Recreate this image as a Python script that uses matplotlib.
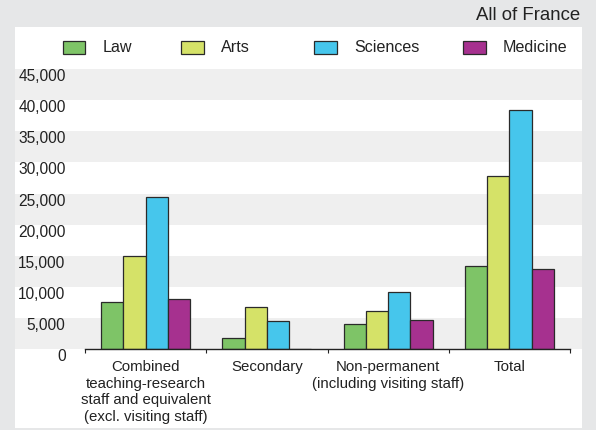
import matplotlib
matplotlib.use("Agg")
import matplotlib.pyplot as plt
from matplotlib.patches import Rectangle
import numpy as np

plt.rcParams['font.family'] = ['Liberation Sans', 'DejaVu Sans']

categories = ["Combined\nteaching-research\nstaff and equivalent\n(excl. visiting staff)",
              "Secondary",
              "Non-permanent\n(including visiting staff)",
              "Total"]
series_names = ["Law", "Arts", "Sciences", "Medicine"]
law = [7600, 1800, 4100, 13300]
arts = [14900, 6850, 6150, 27750]
sciences = [24500, 4600, 9250, 38400]
medicine = [8100, 0, 4700, 12900]
yticks = [0, 5000, 10000, 15000, 20000, 25000, 30000, 35000, 40000, 45000]
ytick_labels = ["0", "5,000", "10,000", "15,000", "20,000", "25,000", "30,000",
                "35,000", "40,000", "45,000"]
title = "All of France"

colors = ["#7ec467", "#d5e268", "#46c6ec", "#a6318f"]
values = [law, arts, sciences, medicine]

W, H = 596, 430
fig = plt.figure(figsize=(W / 100, H / 100), dpi=100)
fig.patch.set_facecolor("#e6e7e8")

# white panel
fig.patches.append(Rectangle((15 / W, 2 / H), (582 - 15) / W, (430 - 27 - 2) / H,
                             transform=fig.transFigure, facecolor="white",
                             edgecolor="none", zorder=-5))

ax_left, ax_right = 85, 570
ax_bottom, ax_top = 349.3, 69
ax = fig.add_axes([ax_left / W, (H - ax_bottom) / H, (ax_right - ax_left) / W,
                   (ax_bottom - ax_top) / H])
ax.set_zorder(2)
ax.set_facecolor("none")
ax.set_xlim(-0.5, len(categories) - 0.5)
ax.set_ylim(0, 45000)

# alternating bands spanning the full panel width
xmin_f = (15 - ax_left) / (ax_right - ax_left)
xmax_f = (582 - ax_left) / (ax_right - ax_left)
for i in range(0, len(yticks) - 1, 2):
    ax.axhspan(yticks[i], yticks[i + 1], xmin=xmin_f, xmax=xmax_f,
               facecolor="#efefef", edgecolor="none", clip_on=False, zorder=0)

x = np.arange(len(categories))
bw = 0.184
for i, (name, vals, c) in enumerate(zip(series_names, values, colors)):
    ax.bar(x + (i - 1.5) * bw, vals, width=bw, color=c, edgecolor="#2a2a2a",
           linewidth=0.9, label=name, zorder=3)

for s in ["top", "right", "left"]:
    ax.spines[s].set_visible(False)
ax.spines["bottom"].set_color("#222222")
ax.spines["bottom"].set_linewidth(1.0)
ax.spines["bottom"].set_zorder(4)

ax.set_yticks(yticks)
ax.set_yticklabels(ytick_labels)
ax.tick_params(axis="y", length=0, pad=14, labelsize=11.2, colors="#222222")
for lab in ax.get_yticklabels():
    lab.set_verticalalignment("top")

ax.set_xticks(x)
ax.set_xticklabels(categories, linespacing=1.22)
ax.tick_params(axis="x", which="major", length=0, pad=8, labelsize=10.8,
               colors="#222222")
ax.set_xticks(np.arange(len(categories) + 1) - 0.5, minor=True)
ax.tick_params(axis="x", which="minor", length=3, width=0.8, color="#222222",
               direction="out")

# legend (manual placement)
leg_patch_x = [62.7, 181, 314, 463.3]
leg_text_x = [102.3, 221, 354.3, 502.3]
for name, c, px, tx in zip(series_names, colors, leg_patch_x, leg_text_x):
    fig.patches.append(Rectangle((px / W, (H - 53.7) / H), 22.5 / W, 13 / H,
                                 transform=fig.transFigure, facecolor=c,
                                 edgecolor="#2a2a2a", linewidth=0.9))
    fig.text(tx / W, (H - 47.5) / H, name, ha="left", va="center",
             fontsize=11.6, color="#222222")

fig.text(580 / W, (H - 16) / H, title, ha="right", va="center", fontsize=13.4,
         color="#222222")

fig.savefig("out.png", dpi=100, facecolor=fig.get_facecolor())
